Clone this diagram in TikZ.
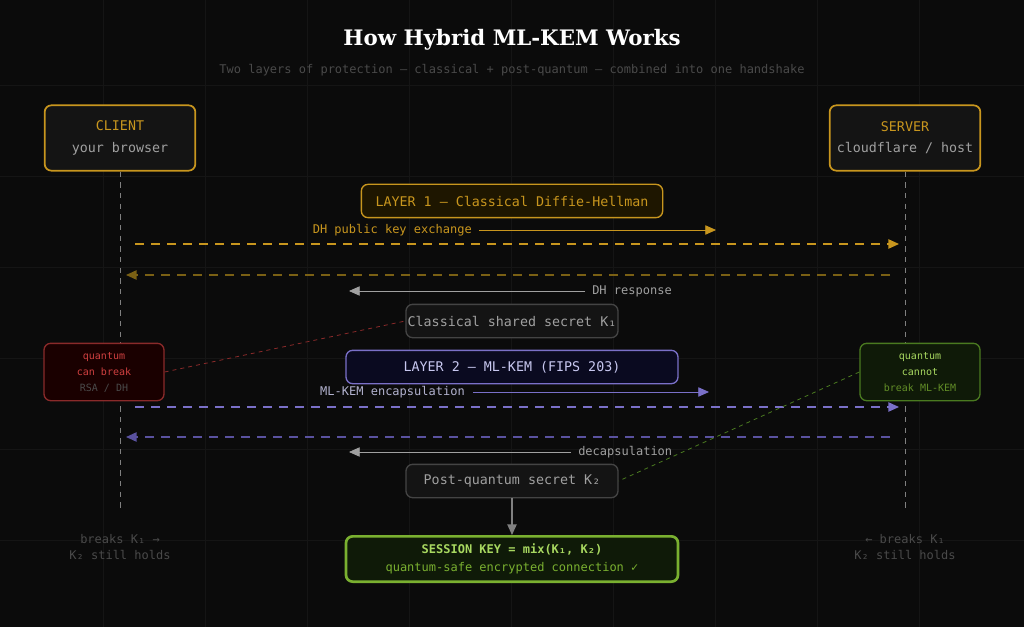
\documentclass[tikz,border=0pt]{standalone}
\usepackage{fontspec}
\setmainfont{DejaVu Sans Mono}
\newfontfamily\titlefont{DejaVu Serif}
\usetikzlibrary{arrows.meta,positioning,shapes}
\definecolor{bgc}{HTML}{0B0B0B}
\definecolor{gridc}{HTML}{151515}
\definecolor{gold}{HTML}{C8961E}
\definecolor{golddim}{HTML}{7A6014}
\definecolor{goldfill}{HTML}{1E1600}
\definecolor{boxfill}{HTML}{141414}
\definecolor{boxline}{HTML}{444444}
\definecolor{txtgray}{HTML}{A0A0A0}
\definecolor{dimgray}{HTML}{4A4A4A}
\definecolor{redc}{HTML}{D04040}
\definecolor{redline}{HTML}{8A2A2A}
\definecolor{redfill}{HTML}{1A0000}
\definecolor{purp}{HTML}{7A70C8}
\definecolor{purpdim}{HTML}{5A52A0}
\definecolor{purpfill}{HTML}{0A0A20}
\definecolor{purptxt}{HTML}{C8C8F0}
\definecolor{grn}{HTML}{7AB030}
\definecolor{grnlt}{HTML}{A8D860}
\definecolor{grndim}{HTML}{4A7A20}
\definecolor{grnfill}{HTML}{0F1A08}
\begin{document}
\begin{tikzpicture}[x=0.75pt,y=-0.75pt,
    box/.style={draw,rounded corners=5pt,line width=1pt,inner sep=0pt,font=\fontsize{10}{14}\selectfont,align=center},
    party/.style={box,draw=gold,fill=boxfill,minimum width=113pt,minimum height=49pt,line width=1.3pt},
    layer/.style={box,minimum height=25pt},
    secret/.style={box,draw=boxline,fill=boxfill,text=txtgray,minimum width=159pt,minimum height=25pt},
    note/.style={box,minimum width=90pt,minimum height=43pt,font=\fontsize{7.5}{12}\selectfont},
    lbl/.style={font=\fontsize{9}{11}\selectfont,inner sep=0pt},
    flow/.style={dashed,dash pattern=on 7pt off 5pt,line width=1.1pt,-{Triangle[length=8pt,width=7pt]}},
    reply/.style={line width=0.6pt,-{Triangle[length=8pt,width=7pt]}},
    link/.style={dashed,dash pattern=on 3pt off 3pt,line width=0.6pt}]
  \fill[bgc] (0,0) rectangle (1024,627);
  \useasboundingbox (0,0) rectangle (1024,627);
  % faint grid
  \foreach \gx in {103,205,307,409,511,613,715,817,919}
    \draw[gridc,line width=0.5pt] (\gx,0) -- (\gx,627);
  \foreach \gy in {85,176,267,358,449,540}
    \draw[gridc,line width=0.5pt] (0,\gy) -- (1024,\gy);

  \node[font=\titlefont\bfseries\fontsize{16}{18}\selectfont,text=white] (title) at (512,40) {How Hybrid ML-KEM Works};
  \node[lbl,text=dimgray] (subtitle) at (512,70) {Two layers of protection — classical + post-quantum — combined into one handshake};

  \node[party] (client) at (120,138) {\textcolor{gold}{CLIENT}\\[2pt]\textcolor{txtgray}{your browser}};
  \node[party] (server) at (905,138) {\textcolor{gold}{SERVER}\\[2pt]\textcolor{txtgray}{cloudflare / host}};
  \coordinate (clientEnd) at (120,510);
  \coordinate (serverEnd) at (905,510);
  \draw[dimgray!70,dashed,dash pattern=on 4pt off 4pt,line width=0.6pt] (client) -- (clientEnd);
  \draw[dimgray!70,dashed,dash pattern=on 4pt off 4pt,line width=0.6pt] (server) -- (serverEnd);

  % layer 1
  \node[layer,draw=gold,fill=goldfill,text=gold,minimum width=226pt] (layerA) at (512,201) {LAYER 1 — Classical Diffie-Hellman};
  \node[lbl,text=gold,anchor=east] (dhLbl) at (472,230) {DH public key exchange};
  \coordinate (dhTip) at (716,230);
  \draw[gold,reply] (dhLbl.east) ++(7,0) -- (dhTip);
  \coordinate (dhA) at (135,244);  \coordinate (dhB) at (899,244);
  \coordinate (dhC) at (890,275);  \coordinate (dhD) at (126,275);
  \draw[gold,flow] (dhA) -- (dhB);
  \draw[golddim,flow] (dhC) -- (dhD);
  \node[lbl,text=txtgray,anchor=west] (dhResp) at (592,291) {DH response};
  \coordinate (dhRespTip) at (349,291);
  \draw[txtgray,reply] (dhResp.west) ++(-7,0) -- (dhRespTip);
  \node[secret] (kOne) at (512,321) {Classical shared secret K₁};

  % layer 2
  \node[layer,draw=purp,fill=purpfill,text=purptxt,minimum width=249pt] (layerB) at (512,367) {LAYER 2 — ML-KEM (FIPS 203)};
  \node[lbl,text=purptxt!70!gray,anchor=east] (kemLbl) at (465,392) {ML-KEM encapsulation};
  \coordinate (kemTip) at (709,392);
  \draw[purp,reply] (kemLbl.east) ++(8,0) -- (kemTip);
  \coordinate (kemA) at (135,407);  \coordinate (kemB) at (899,407);
  \coordinate (kemC) at (890,437);  \coordinate (kemD) at (126,437);
  \draw[purp,flow] (kemA) -- (kemB);
  \draw[purpdim,flow] (kemC) -- (kemD);
  \node[lbl,text=txtgray,anchor=west] (decap) at (578,452) {decapsulation};
  \coordinate (decapTip) at (349,452);
  \draw[txtgray,reply] (decap.west) ++(-7,0) -- (decapTip);
  \node[secret] (kTwo) at (512,481) {Post-quantum secret K₂};

  % quantum notes
  \node[note,draw=redline,fill=redfill,text=redc] (breakNote) at (104,372) {quantum\\can break\\\textcolor{dimgray}{RSA / DH}};
  \node[note,draw=grndim,fill=grnfill,text=grnlt] (holdNote) at (920,372) {quantum\\cannot\\\textcolor{grn!80!black}{break ML-KEM}};
  \draw[redline,link] (breakNote.east) -- (kOne.west);
  \draw[grndim,link] (holdNote.west) -- (kTwo.east);

  % session key
  \node[box,draw=grn,fill=grnfill,line width=2pt,minimum width=249pt,minimum height=34pt,font=\fontsize{9}{13}\selectfont] (session) at (512,559)
    {\textcolor{grnlt}{\bfseries SESSION KEY = mix(K₁, K₂)}\\\textcolor{grn}{quantum-safe encrypted connection ✓}};
  \draw[gray,line width=1pt,-{Triangle[length=8pt,width=7pt]}] (kTwo) -- (session);

  \node[lbl,text=dimgray,align=center,font=\fontsize{9}{12}\selectfont] (leftNote) at (120,547) {breaks K₁ →\\K₂ still holds};
  \node[lbl,text=dimgray,align=center,font=\fontsize{9}{12}\selectfont] (rightNote) at (905,547) {← breaks K₁\\K₂ still holds};
\end{tikzpicture}
\end{document}
